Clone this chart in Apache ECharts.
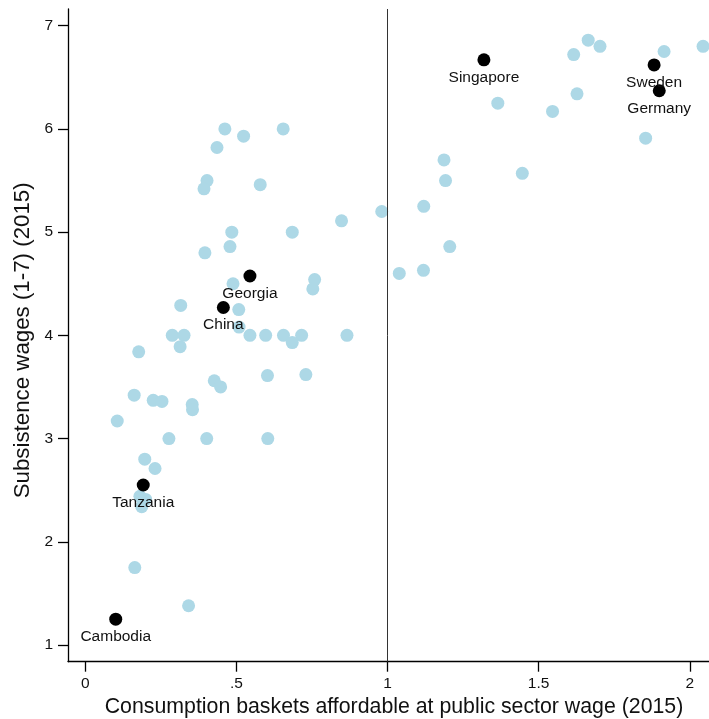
<!DOCTYPE html>
<html>
<head>
<meta charset="utf-8">
<script src="https://cdn.jsdelivr.net/npm/echarts@6/dist/echarts.min.js"></script>
<style>
  html, body { margin: 0; padding: 0; background: #fff; }
  #chart { width: 709px; height: 719px; }
</style>
</head>
<body>
<div id="chart"></div>
<script>
// Countries without a label: [baskets affordable, subsistence wage score]
const otherX = [0.462, 0.524, 0.655, 0.436, 0.403, 0.393, 0.579, 0.981, 0.848, 0.485,
  0.685, 0.479, 0.396, 1.039, 1.119, 0.489, 0.759, 0.753, 0.508, 0.509,
  0.545, 0.597, 0.656, 0.716, 0.685, 0.866, 0.316, 0.288, 0.327, 0.314,
  0.177, 0.427, 0.448, 0.603, 0.730, 0.162, 0.225, 0.254, 0.354, 0.355,
  0.106, 0.277, 0.402, 0.604, 0.197, 0.231, 0.181, 0.200, 0.187, 0.164,
  0.342, 1.187, 1.192, 1.446, 1.120, 1.206, 1.365, 1.546, 1.627, 1.616,
  1.664, 1.703, 1.915, 2.044, 1.854];
const otherY = [6.00, 5.93, 6.00, 5.82, 5.50, 5.42, 5.46, 5.20, 5.11, 5.00,
  5.00, 4.86, 4.80, 4.60, 4.63, 4.50, 4.54, 4.45, 4.25, 4.08,
  4.00, 4.00, 4.00, 4.00, 3.93, 4.00, 4.29, 4.00, 4.00, 3.89,
  3.84, 3.56, 3.50, 3.61, 3.62, 3.42, 3.37, 3.36, 3.33, 3.28,
  3.17, 3.00, 3.00, 3.00, 2.80, 2.71, 2.44, 2.41, 2.34, 1.75,
  1.38, 5.70, 5.50, 5.57, 5.25, 4.86, 6.25, 6.17, 6.34, 6.72,
  6.86, 6.80, 6.75, 6.80, 5.91];

// Labelled countries
const namedCountries = ['Singapore', 'Sweden', 'Germany', 'Georgia', 'China', 'Tanzania', 'Cambodia'];
const namedX = [1.319, 1.882, 1.899, 0.545, 0.457, 0.192, 0.101];
const namedY = [6.67, 6.62, 6.37, 4.575, 4.27, 2.55, 1.25];

// Axis ticks
const xTickValues = [0, 0.5, 1, 1.5, 2];
const xTickLabels = ['0', '.5', '1', '1.5', '2'];
const yTickValues = [1, 2, 3, 4, 5, 6, 7];
const yTickLabels = ['1', '2', '3', '4', '5', '6', '7'];

const FONT = "'Liberation Sans', Arial, Helvetica, sans-serif";

const chart = echarts.init(document.getElementById('chart'), null, { renderer: 'canvas' });

const otherData = otherX.map((x, i) => [x, otherY[i]]);
const namedData = namedCountries.map((n, i) => ({ name: n, value: [namedX[i], namedY[i]] }));

chart.setOption({
  animation: false,
  backgroundColor: '#ffffff',
  grid: {
    left: 68, top: 9, width: 652, height: 652.7,
    containLabel: false,
    outerBoundsMode: 'none'
  },
  xAxis: {
    type: 'value',
    min: -0.0569, max: 2.1,
    splitLine: { show: false },
    axisLine: { show: true, onZero: false, lineStyle: { color: '#000', width: 1.3 } },
    axisTick: { show: true, length: 10, inside: false, customValues: xTickValues,
      lineStyle: { color: '#000', width: 1.3 } },
    axisLabel: {
      customValues: xTickValues,
      margin: 14,
      color: '#111', fontSize: 15.5, fontFamily: FONT,
      formatter: v => {
        const i = xTickValues.findIndex(t => Math.abs(t - v) < 1e-6);
        return i >= 0 ? xTickLabels[i] : '';
      }
    },
    name: 'Consumption baskets affordable at public sector wage (2015)',
    nameLocation: 'middle',
    nameGap: 31,
    nameTextStyle: { color: '#111', fontSize: 21.3, fontFamily: FONT }
  },
  yAxis: {
    type: 'value',
    min: 0.838, max: 7.162,
    splitLine: { show: false },
    axisLine: { show: true, onZero: false, lineStyle: { color: '#000', width: 1.3 } },
    axisTick: { show: true, length: 10, inside: false, customValues: yTickValues,
      lineStyle: { color: '#000', width: 1.3 } },
    axisLabel: {
      customValues: yTickValues,
      margin: 15,
      color: '#111', fontSize: 15.5, fontFamily: FONT,
      formatter: v => {
        const i = yTickValues.findIndex(t => Math.abs(t - v) < 1e-6);
        return i >= 0 ? yTickLabels[i] : '';
      }
    },
    name: 'Subsistence wages (1-7) (2015)',
    nameLocation: 'middle',
    nameGap: 31,
    nameTextStyle: { color: '#111', fontSize: 22.3, fontFamily: FONT, padding: [0, 10, 0, 0] }
  },
  series: [
    {
      type: 'scatter',
      name: 'others',
      data: otherData,
      symbol: 'circle',
      symbolSize: 13,
      itemStyle: { color: '#ADD8E6', opacity: 1 },
      z: 2,
      markLine: {
        silent: true,
        symbol: ['none', 'none'],
        label: { show: false },
        lineStyle: { color: '#333', width: 1, type: 'solid' },
        data: [{ xAxis: 1 }]
      }
    },
    {
      type: 'scatter',
      name: 'named',
      data: namedData,
      symbol: 'circle',
      symbolSize: 13,
      itemStyle: { color: '#000', opacity: 1 },
      z: 3,
      label: {
        show: true,
        position: 'bottom',
        distance: 3,
        formatter: p => p.name,
        color: '#111',
        fontSize: 15.5,
        fontFamily: FONT
      }
    }
  ]
});
</script>
</body>
</html>
